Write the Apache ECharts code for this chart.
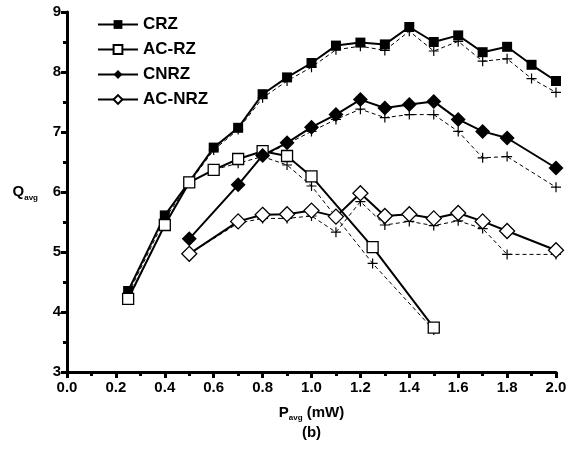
<!DOCTYPE html>
<html><head><meta charset="utf-8">
<script src="https://cdn.jsdelivr.net/npm/echarts@6/dist/echarts.min.js"></script>
<style>html,body{margin:0;padding:0;background:#fff}#c{width:578px;height:461px}</style>
</head><body><div id="c"></div>
<script>
// ---- data ----
const xRZ = [0.25, 0.4, 0.5, 0.6, 0.7, 0.8, 0.9, 1.0, 1.1, 1.2, 1.3, 1.4, 1.5, 1.6, 1.7, 1.8, 1.9, 2.0];
const crz      = [4.35, 5.61, 6.17, 6.74, 7.07, 7.63, 7.91, 8.15, 8.44, 8.49, 8.46, 8.75, 8.50, 8.61, 8.33, 8.42, 8.12, 7.85];
const crzSim   = [4.30, 5.55, 6.15, 6.70, 7.04, 7.57, 7.85, 8.08, 8.37, 8.43, 8.36, 8.68, 8.35, 8.51, 8.18, 8.22, 7.89, 7.66];
const xACRZ = [0.25, 0.4, 0.5, 0.6, 0.7, 0.8, 0.9, 1.0, 1.25, 1.5];
const acrz     = [4.22, 5.45, 6.16, 6.37, 6.55, 6.68, 6.60, 6.26, 5.08, 3.74];
const acrzSim  = [4.20, 5.45, 6.16, 6.37, 6.48, 6.59, 6.45, 6.10, 4.81, 3.70];
const xNRZ = [0.5, 0.7, 0.8, 0.9, 1.0, 1.1, 1.2, 1.3, 1.4, 1.5, 1.6, 1.7, 1.8, 2.0];
const cnrz     = [5.22, 6.12, 6.61, 6.82, 7.08, 7.29, 7.54, 7.40, 7.46, 7.51, 7.21, 7.01, 6.90, 6.40];
const cnrzSim  = [5.22, 6.12, 6.60, 6.80, 7.01, 7.21, 7.38, 7.24, 7.29, 7.29, 7.01, 6.57, 6.59, 6.08];
const acnrz    = [4.97, 5.51, 5.62, 5.63, 5.69, 5.59, 5.98, 5.60, 5.63, 5.56, 5.65, 5.51, 5.35, 5.03];
const acnrzSim = [4.97, 5.48, 5.56, 5.56, 5.60, 5.33, 5.84, 5.45, 5.51, 5.44, 5.52, 5.39, 4.96, 4.96];
const names = ['CRZ', 'AC-RZ', 'CNRZ', 'AC-NRZ'];
const xTicks = ['0.0','0.2','0.4','0.6','0.8','1.0','1.2','1.4','1.6','1.8','2.0'];

const pair = (xs, ys) => xs.map((x, i) => [x, ys[i]]);
const PLUS = 'path://M4.4,0H5.6V4.4H10V5.6H5.6V10H4.4V5.6H0V4.4H4.4Z';
const FONT = '"Liberation Sans", Arial, sans-serif';

function solid(name, data, symbol, size, filled) {
  return {
    name, type: 'line', data, symbol, symbolSize: size, z: 3,
    lineStyle: { color: '#000', width: 2 },
    itemStyle: { color: filled ? '#000' : '#fff', borderColor: '#000', borderWidth: filled ? 0 : 1.3 },
    emphasis: { disabled: true }, animation: false
  };
}
function sim(data) {
  return {
    name: 'sim', type: 'line', data, symbol: PLUS, symbolSize: 10, z: 2,
    lineStyle: { color: '#000', width: 1, type: [4, 3] },
    itemStyle: { color: '#000' },
    emphasis: { disabled: true }, animation: false
  };
}

const chart = echarts.init(document.getElementById('c'));
chart.setOption({
  backgroundColor: '#fff',
  animation: false,
  grid: { left: 67, right: 22, top: 12, bottom: 89 },
  legend: {
    data: names, orient: 'vertical', left: 92, top: 10,
    itemWidth: 40, itemHeight: 11, itemGap: 6,
    textStyle: { fontFamily: FONT, fontWeight: 'bold', fontSize: 17, color: '#000', lineHeight: 19 },
    selectedMode: false
  },
  xAxis: {
    type: 'value', min: 0, max: 2, interval: 0.2,
    axisLine: { lineStyle: { color: '#000', width: 3 } },
    axisTick: { show: true, length: 6, lineStyle: { color: '#000', width: 3 } },
    minorTick: { show: true, splitNumber: 2, length: 4, lineStyle: { color: '#000', width: 3 } },
    splitLine: { show: false },
    axisLabel: { margin: 8, fontFamily: FONT, fontWeight: 900, fontSize: 15, color: '#000',
      formatter: (v) => xTicks[Math.round(v / 0.2)] },
    name: '{p|P}{s|avg}{m| (mW)}\n{b|(b)}', nameLocation: 'middle', nameGap: 31,
    nameTextStyle: {
      fontFamily: FONT, fontWeight: 'bold', color: '#000', lineHeight: 20,
      rich: {
        p: { fontFamily: FONT, fontWeight: 'bold', fontSize: 15, color: '#000', lineHeight: 20 },
        s: { fontFamily: FONT, fontWeight: 'bold', fontSize: 8, color: '#000', lineHeight: 20, padding: [10, 0, 0, 0] },
        m: { fontFamily: FONT, fontWeight: 'bold', fontSize: 15, color: '#000', lineHeight: 20 },
        b: { fontFamily: FONT, fontWeight: 'bold', fontSize: 15, color: '#000', lineHeight: 20 }
      }
    }
  },
  yAxis: {
    type: 'value', min: 3, max: 9, interval: 1,
    axisLine: { show: true, lineStyle: { color: '#000', width: 3 } },
    axisTick: { show: true, length: 6, lineStyle: { color: '#000', width: 3 } },
    minorTick: { show: true, splitNumber: 2, length: 4, lineStyle: { color: '#000', width: 3 } },
    splitLine: { show: false },
    axisLabel: { margin: 6, fontFamily: FONT, fontWeight: 900, fontSize: 15, color: '#000' },
    name: '{q|Q}{s|avg}', nameLocation: 'middle', nameGap: 29, nameRotate: 0,
    nameTextStyle: {
      rich: {
        q: { fontFamily: FONT, fontWeight: 'bold', fontSize: 15, color: '#000', lineHeight: 20 },
        s: { fontFamily: FONT, fontWeight: 'bold', fontSize: 8, color: '#000', lineHeight: 20, padding: [12, 0, 0, 0] }
      }
    }
  },
  series: [
    sim(pair(xRZ, crzSim)),
    sim(pair(xACRZ, acrzSim)),
    sim(pair(xNRZ, cnrzSim)),
    sim(pair(xNRZ, acnrzSim)),
    solid('CRZ', pair(xRZ, crz), 'rect', 10, true),
    solid('AC-RZ', pair(xACRZ, acrz), 'rect', 11, false),
    solid('CNRZ', pair(xNRZ, cnrz), 'diamond', 15, true),
    solid('AC-NRZ', pair(xNRZ, acnrz), 'diamond', 15, false)
  ]
});
</script></body></html>
